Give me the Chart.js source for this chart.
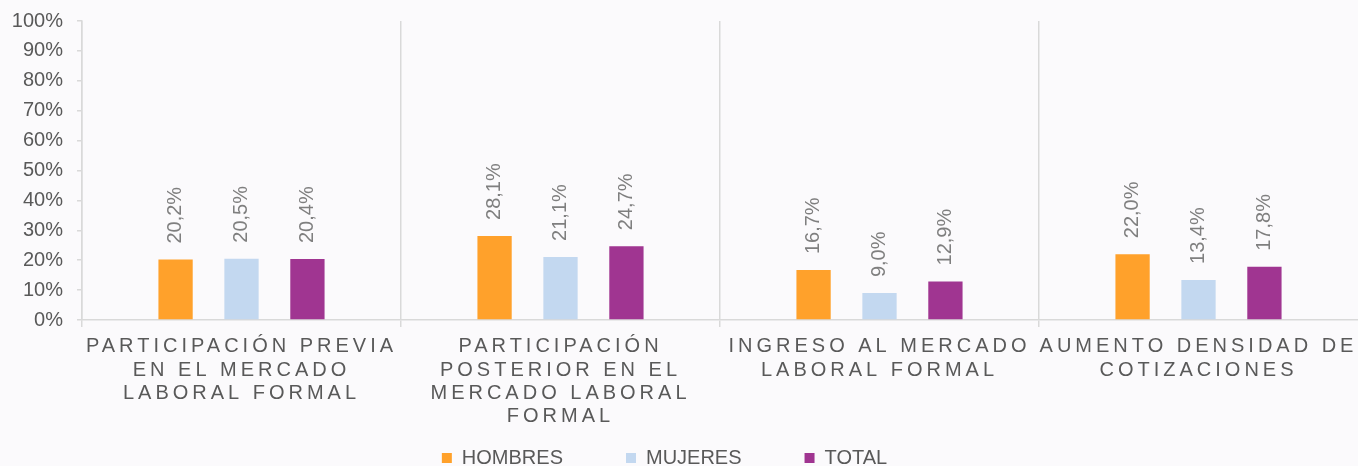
<!DOCTYPE html>
<html>
<head>
<meta charset="utf-8">
<script src="https://cdn.jsdelivr.net/npm/chart.js@4.4.1/dist/chart.umd.min.js"></script>
<style>
  html, body { margin: 0; padding: 0; background: #fbfafc; overflow: hidden; }
  #wrap { width: 1358px; height: 523px; position: relative; }
</style>
</head>
<body>
<div id="wrap"><canvas id="chart"></canvas></div>
<script>
// categories (multi-line axis labels)
const categories = [
  ["PARTICIPACIÓN PREVIA", "EN EL MERCADO", "LABORAL FORMAL"],
  ["PARTICIPACIÓN", "POSTERIOR EN EL", "MERCADO LABORAL", "FORMAL"],
  ["INGRESO AL MERCADO", "LABORAL FORMAL"],
  ["AUMENTO DENSIDAD DE", "COTIZACIONES"]
];
const hombres = [20.2, 28.1, 16.7, 22.0];
const mujeres = [20.5, 21.1, 9.0, 13.4];
const total = [20.4, 24.7, 12.9, 17.8];
const seriesNames = ["HOMBRES", "MUJERES", "TOTAL"];
const yTicks = [0, 10, 20, 30, 40, 50, 60, 70, 80, 90, 100];

const gridColor = "#d9d9d9";
const textColor = "#595959";
const fontFamily = "'Liberation Sans', Arial, sans-serif";

function pct(v) {
  return v.toFixed(1).replace(".", ",") + "%";
}

// rotated value labels above the bars
const valueLabels = {
  id: "valueLabels",
  afterDatasetsDraw(chart) {
    const ctx = chart.ctx;
    ctx.save();
    ctx.font = "20px " + fontFamily;
    ctx.fillStyle = "#7f7f7f";
    ctx.textAlign = "left";
    ctx.textBaseline = "middle";
    chart.data.datasets.forEach((ds, i) => {
      chart.getDatasetMeta(i).data.forEach((bar, j) => {
        ctx.save();
        ctx.translate(bar.x, bar.y - 16);
        ctx.rotate(-Math.PI / 2);
        ctx.fillText(pct(ds.data[j]), 0, 0);
        ctx.restore();
      });
    });
    ctx.restore();
  }
};

// spaced-out letters on the category axis, legend moved up/left
const tweaks = {
  id: "tweaks",
  afterLayout(chart) {
    chart.legend.left -= 29;
    chart.legend.top = 385;
  },
  beforeDraw(chart) {
    const sc = chart.scales.x;
    if (sc._spaced) return;
    const orig = sc.drawLabels;
    sc.drawLabels = function (area) {
      const ctx = this.ctx;
      ctx.save();
      ctx.letterSpacing = "4px";
      orig.call(this, area);
      ctx.restore();
    };
    sc._spaced = true;
  }
};

new Chart(document.getElementById("chart"), {
  type: "bar",
  data: {
    labels: categories,
    datasets: [
      { label: seriesNames[0], data: hombres, backgroundColor: "#ffa12b" },
      { label: seriesNames[1], data: mujeres, backgroundColor: "#c3d8f0" },
      { label: seriesNames[2], data: total, backgroundColor: "#a03591" }
    ]
  },
  plugins: [valueLabels, tweaks],
  options: {
    responsive: true,
    maintainAspectRatio: false,
    animation: false,
    categoryPercentage: 0.62,
    barPercentage: 0.52,
    layout: { padding: { top: 21, right: 0, left: 0, bottom: 0 } },
    plugins: {
      tooltip: { enabled: false },
      legend: {
        position: "bottom",
        labels: {
          boxWidth: 10,
          boxHeight: 10,
          padding: 63,
          color: textColor,
          font: { family: fontFamily, size: 20 }
        }
      }
    },
    scales: {
      x: {
        offset: true,
        grid: {
          display: true,
          drawOnChartArea: true,
          // the extra closing line on the right edge gets the scale context, hide it
          color: c => (c.type === "tick" ? gridColor : "rgba(0,0,0,0)"),
          lineWidth: 1.5,
          tickLength: 7,
          offset: true
        },
        border: { display: true, color: gridColor, width: 1.5 },
        ticks: {
          color: textColor,
          autoSkip: false,
          maxRotation: 0,
          minRotation: 0,
          padding: 8,
          font: { family: fontFamily, size: 20, lineHeight: 1.17 }
        },
        afterFit(scale) {
          scale.height = 110;
          scale.paddingLeft = 0;
          scale.paddingRight = 0;
        }
      },
      y: {
        min: 0,
        max: 100,
        afterBuildTicks(scale) { scale.ticks = yTicks.map(v => ({ value: v })); },
        grid: {
          display: true,
          drawOnChartArea: false,
          color: gridColor,
          lineWidth: 1.5,
          tickLength: 5
        },
        border: { display: true, color: gridColor, width: 1.5 },
        ticks: {
          color: textColor,
          autoSkip: false,
          padding: 14,
          callback: v => v + "%",
          font: { family: fontFamily, size: 20 }
        },
        afterFit(scale) {
          scale.width = 82;
          scale.paddingTop = 0;
          scale.paddingBottom = 0;
        }
      }
    }
  }
});
</script>
</body>
</html>
